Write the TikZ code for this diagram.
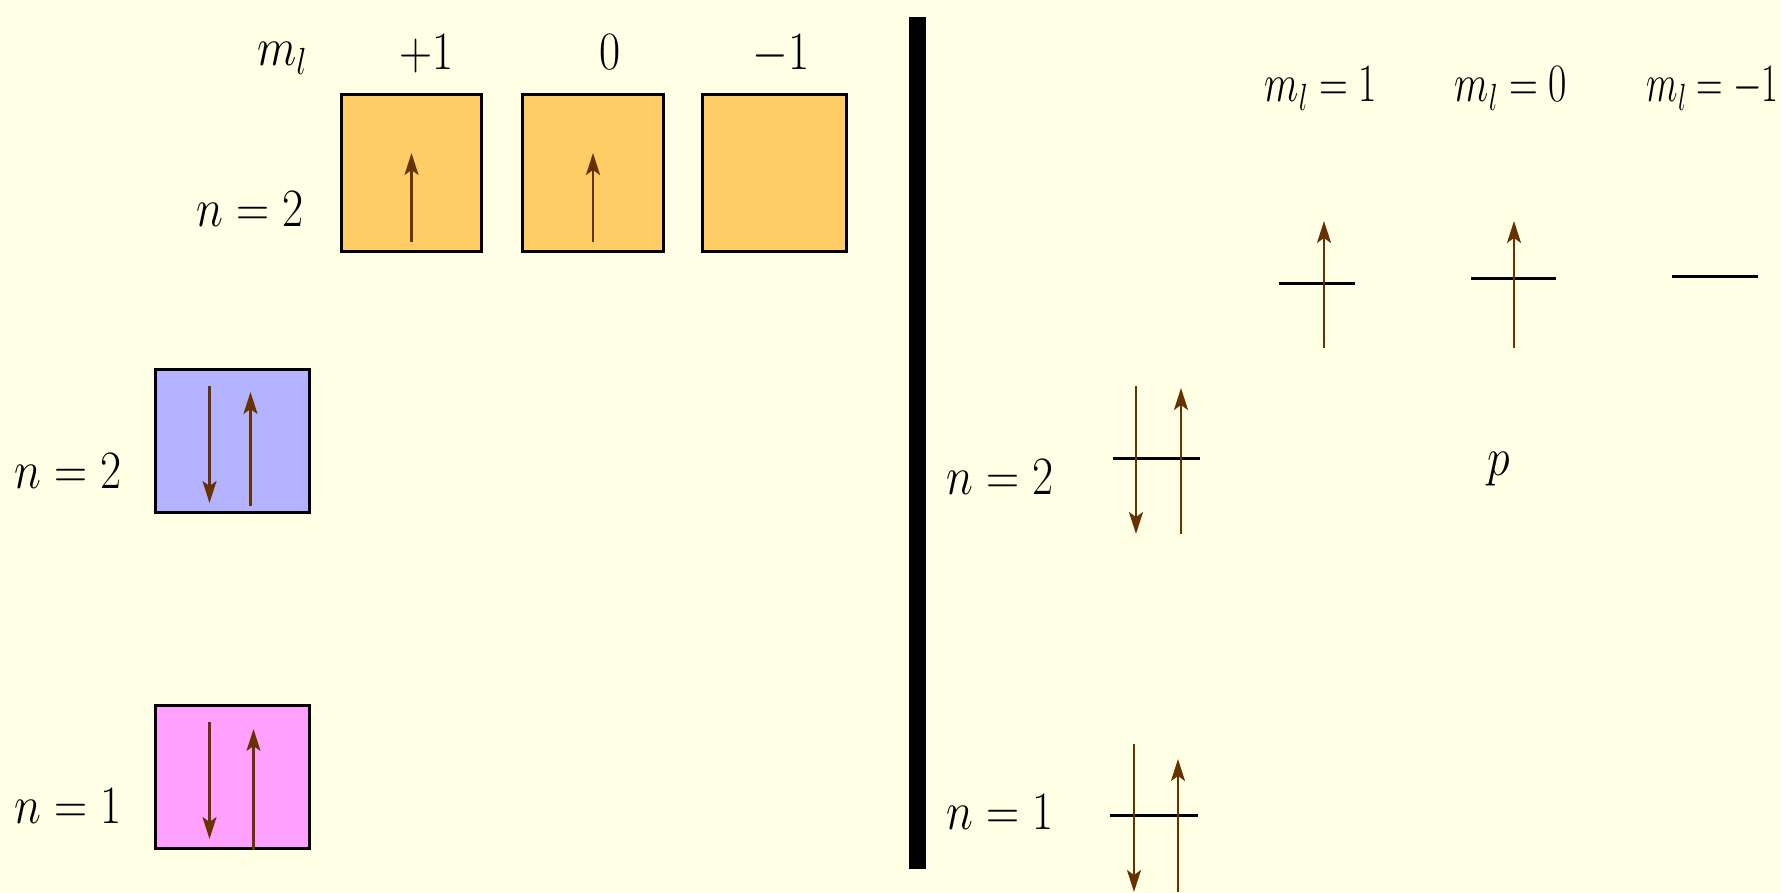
\RequirePackage{fix-cm}
\documentclass[tikz,border=0pt]{standalone}
\usepackage{graphicx}
\usetikzlibrary{arrows.meta}
\definecolor{bgc}{RGB}{255,255,230}
\definecolor{orangebox}{RGB}{255,204,102}
\definecolor{bluebox}{RGB}{179,179,255}
\definecolor{pinkbox}{RGB}{255,160,255}
\definecolor{spinc}{RGB}{102,51,0}
\newcommand{\sq}[1]{\scalebox{0.85}[1]{#1}}
\newcommand{\sqq}[1]{\scalebox{0.74}[1]{#1}}
\begin{document}
\begin{tikzpicture}[x=1pt,y=-1pt,
  lbl/.style={anchor=base,inner sep=0pt,font=\fontsize{54}{60}\selectfont},
  orb/.style={draw=black,line width=3pt,inner sep=0pt,anchor=north west},
  spin/.style={draw=spinc,line width=2.2pt,-{Stealth[length=22pt,width=14pt,inset=5pt]}},
  level/.style={draw=black,line width=3pt}]
\fill[bgc] (0,0) rectangle (1781,893);
\useasboundingbox (0,0) rectangle (1781,893);
% left: boxes
\node[orb,fill=orangebox,minimum width=140pt,minimum height=157pt] (b1) at (340,93) {};
\node[orb,fill=orangebox,minimum width=141pt,minimum height=157pt] (b2) at (521,93) {};
\node[orb,fill=orangebox,minimum width=144pt,minimum height=157pt] (b3) at (701,93) {};
\node[orb,fill=bluebox,minimum width=154pt,minimum height=143pt] (bs2) at (154,368) {};
\node[orb,fill=pinkbox,minimum width=154pt,minimum height=143pt] (bs1) at (154,704) {};
% labels left
\node[lbl] (ml) at (282,66) {\sq{$m_l$}};
\node[lbl] (p1) at (427,70) {\sq{$+1$}};
\node[lbl] (z0) at (610,70) {\sq{$0$}};
\node[lbl] (m1) at (781,70) {\sq{$-1$}};
\node[lbl] (n2a) at (250,227) {\sq{$n = 2$}};
\node[lbl] (n2b) at (68,488) {\sq{$n = 2$}};
\node[lbl] (n1b) at (68,823) {\sq{$n = 1$}};
% spins in boxes
\draw[spin] ([yshift=11pt]b1.south) -- ([yshift=-60pt]b1.north);
\draw[spin] ([yshift=11pt]b2.south) -- ([yshift=-60pt]b2.north);
\draw[spin] ([xshift=-23pt,yshift=-18pt]bs2.north) -- ([xshift=-23pt,yshift=11pt]bs2.south);
\draw[spin] ([xshift=18pt,yshift=8pt]bs2.south) -- ([xshift=18pt,yshift=-24pt]bs2.north);
\draw[spin] ([xshift=-23pt,yshift=-18pt]bs1.north) -- ([xshift=-23pt,yshift=11pt]bs1.south);
\draw[spin] ([xshift=21pt]bs1.south) -- ([xshift=21pt,yshift=-25pt]bs1.north);
% divider
\fill[black] (909,17) rectangle (926,869);
% right side labels
\node[lbl] (rn2) at (1000,494) {\sq{$n = 2$}};
\node[lbl] (rn1) at (1000,829) {\sq{$n = 1$}};
\node[lbl] (q1) at (1321,102) {\sqq{$m_l = 1$}};
\node[lbl] (q0) at (1511,102) {\sqq{$m_l = 0$}};
\node[lbl,anchor=base east] (qm) at (1779,102) {\scalebox{0.68}[1]{$m_l = -1$}};
\node[lbl] (pp) at (1499,475) {\sq{$p$}};
% right levels
\coordinate (s2) at (1156,458);
\coordinate (s1) at (1154,815);
\coordinate (pa) at (1317,284);
\coordinate (pb) at (1513,279);
\coordinate (pc) at (1715,277);
\draw[level] ([xshift=-43pt]s2) -- ([xshift=44pt]s2);
\draw[level] ([xshift=-44pt]s1) -- ([xshift=44pt]s1);
\draw[level] ([xshift=-38pt]pa) -- ([xshift=38pt]pa);
\draw[level] ([xshift=-42pt]pb) -- ([xshift=43pt]pb);
\draw[level] ([xshift=-43pt]pc) -- ([xshift=43pt]pc);
\draw[spin] ([xshift=-20pt,yshift=72pt]s2) -- ([xshift=-20pt,yshift=-76pt]s2);
\draw[spin] ([xshift=25pt,yshift=-76pt]s2) -- ([xshift=25pt,yshift=70pt]s2);
\draw[spin] ([xshift=-20pt,yshift=71pt]s1) -- ([xshift=-20pt,yshift=-77pt]s1);
\draw[spin] ([xshift=24pt,yshift=-77pt]s1) -- ([xshift=24pt,yshift=56pt]s1);
\draw[spin] ([xshift=7pt,yshift=-64pt]pa) -- ([xshift=7pt,yshift=63pt]pa);
\draw[spin] ([xshift=1pt,yshift=-69pt]pb) -- ([xshift=1pt,yshift=58pt]pb);
\end{tikzpicture}
\end{document}
